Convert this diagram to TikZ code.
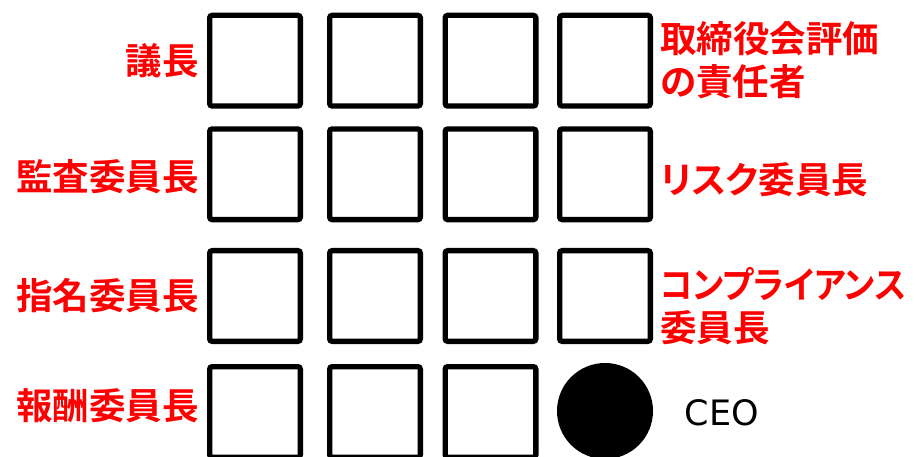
\documentclass[tikz,border=0pt]{standalone}
\usepackage{fontspec}
\usepackage{xcolor}
\usepackage{graphicx}
\setmainfont{DejaVu Sans}
\newfontfamily\jpfont[BoldFont={Noto Sans CJK JP Bold},RawFeature=+palt]{Noto Sans CJK JP}
\usetikzlibrary{positioning}
\definecolor{labelred}{HTML}{ff0000}

\begin{document}
\begin{tikzpicture}[
  x=1pt, y=-1pt,
  seat/.style={draw, line width=5.3pt, rounded corners=2.5pt, minimum size=90.7pt,
    inner sep=0pt},
  ceo/.style={circle, fill=black, minimum size=96pt, inner sep=0pt},
  lbl/.style={text=labelred, inner sep=0pt, align=left,
    font=\jpfont\bfseries\fontsize{36.5}{43}\selectfont},
]
\useasboundingbox (0,0) rectangle (916,457);

% seats: rows 1-4, columns 1-4
\node[seat] (s11) at (255,60.7)  {};
\node[seat] (s12) at (375,60.7)  {};
\node[seat] (s13) at (490.5,60.7) {};
\node[seat] (s14) at (605,60.7)  {};
\node[seat] (s21) at (255,174.3) {};
\node[seat] (s22) at (375,174.3) {};
\node[seat] (s23) at (490.5,174.3) {};
\node[seat] (s24) at (605,174.3) {};
\node[seat] (s31) at (255,296)   {};
\node[seat] (s32) at (375,296)   {};
\node[seat] (s33) at (490.5,296) {};
\node[seat] (s34) at (605,296)   {};
\node[seat] (s41) at (255,412)   {};
\node[seat] (s42) at (375,412)   {};
\node[seat] (s43) at (490.5,412) {};
\node[ceo]  (c)   at (605,411)   {};

% left labels
\node[lbl, left=8pt of s11] (chair) {議長};
\node[lbl, left=8pt of s21, yshift=-2pt] (audit) {監査委員長};
\node[lbl, left=8pt of s31] (nomin) {指名委員長};
\node[lbl, left=8pt of s41, yshift=6pt] (remun) {報酬委員長};

% right labels
\node[lbl, right=7pt of s14, yshift=1pt]   (evalr) {取締役会評価\\の責任者};
\node[lbl, right=7pt of s24, yshift=-5pt]  (risk)  {リスク委員長};
\node[lbl, right=7pt of s34, yshift=-10pt] (compl) {\scalebox{0.92}[1]{コンプライアンス}\\委員長};
\node[font=\fontsize{35}{42}\selectfont, right=28pt of c, yshift=-2pt] (ceolbl) {CEO};
\end{tikzpicture}
\end{document}
